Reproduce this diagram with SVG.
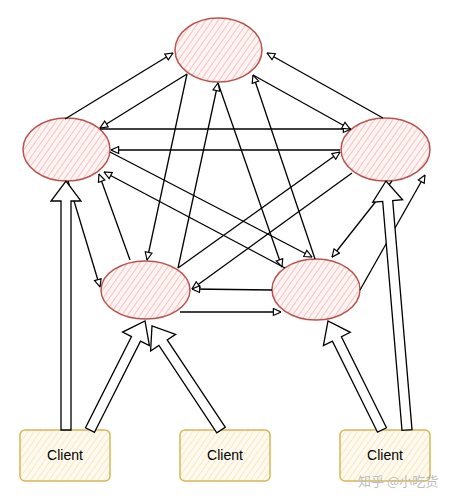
<svg xmlns="http://www.w3.org/2000/svg" width="453" height="501" viewBox="0 0 453 501">
<defs>
<pattern id="hatchRed" patternUnits="userSpaceOnUse" width="5" height="5" patternTransform="rotate(35)">
<rect width="5" height="5" fill="#fdf3f2"/>
<line x1="0" y1="0" x2="0" y2="5" stroke="#f0b8b6" stroke-width="1.6"/>
</pattern>
<pattern id="hatchYel" patternUnits="userSpaceOnUse" width="5" height="5" patternTransform="rotate(35)">
<rect width="5" height="5" fill="#fffaf0"/>
<line x1="0" y1="0" x2="0" y2="5" stroke="#f6e3b8" stroke-width="1.6"/>
</pattern>
<marker id="ah" viewBox="0 0 10 10" refX="9.5" refY="5" markerWidth="9" markerHeight="9" markerUnits="userSpaceOnUse" orient="auto">
<path d="M1,1.2 L9.5,5 L1,8.8 Z" fill="#fff" stroke="#000" stroke-width="1.3" stroke-linejoin="miter"/>
</marker>
</defs>
<style>
.node ellipse{fill:url(#hatchRed);stroke:#b85450;stroke-width:1.5}
.client rect{fill:url(#hatchYel);stroke:#d6b656;stroke-width:1.5}
.client text{font-family:"Liberation Sans",Arial,sans-serif;font-size:14px;fill:#000;text-anchor:middle}
.edge{fill:none;stroke:#000;stroke-width:1.3;marker-end:url(#ah)}
.flex{fill:#fff;stroke:#000;stroke-width:1.3;stroke-linejoin:miter}
.wm{font-family:"Noto Sans CJK SC","Liberation Sans",sans-serif;font-size:13px;fill:#bdbdbd}
</style>
<rect width="453" height="501" fill="#fff"/>

<g id="node-top" class="node"><ellipse cx="218.5" cy="50" rx="43.5" ry="32"/></g>
<g id="node-left" class="node"><ellipse cx="66.5" cy="149.5" rx="43.5" ry="31.5"/></g>
<g id="node-right" class="node"><ellipse cx="385.5" cy="149.5" rx="44.5" ry="31.5"/></g>
<g id="node-bottom-left" class="node"><ellipse cx="145.5" cy="290" rx="44.5" ry="29"/></g>
<g id="node-bottom-right" class="node"><ellipse cx="316" cy="289.5" rx="44" ry="30.5"/></g>

<g id="client-1" class="client"><rect x="20" y="430" width="90" height="51" rx="5"/><text x="65" y="460">Client</text></g>
<g id="client-2" class="client"><rect x="180" y="430" width="90" height="51" rx="5"/><text x="225" y="460">Client</text></g>
<g id="client-3" class="client"><rect x="340" y="430" width="90" height="51" rx="5"/><text x="385" y="460">Client</text></g>

<g id="connectors">
<path class="edge" d="M65,119 L173,53"/>
<path class="edge" d="M187,74 L100,128"/>
<path class="edge" d="M100,129 L351,129"/>
<path class="edge" d="M340,150 L111,150"/>
<path class="edge" d="M178,268 L340,152"/>
<path class="edge" d="M352,173 L192,289"/>
<path class="edge" d="M383,118 L267,53"/>
<path class="edge" d="M253,75 L350,129"/>
<path class="edge" d="M315,259 L253,75"/>
<path class="edge" d="M218,83 L282,267"/>
<path class="edge" d="M178,268 L218,83"/>
<path class="edge" d="M187,74 L147,260"/>
<path class="edge" d="M110,152 L312,257"/>
<path class="edge" d="M285,268 L104,172"/>
<path class="edge" d="M130,260 L99,174"/>
<path class="edge" d="M68,181 L100,287"/>
<path class="edge" d="M272,290 L192,289"/>
<path class="edge" d="M180,312 L281,312"/>
<path class="edge" d="M392,181 L332,257"/>
<path class="edge" d="M360,290 L425,175"/>

<polygon class="flex" points="61,430 61,201 51,201 66,181 81,201 71,201 71,430"/>
<polygon class="flex" points="94.5,432.3 140.5,341.1 149.4,345.6 145,321 122.6,332.1 131.5,336.6 85.5,427.8"/>
<polygon class="flex" points="225.2,427.2 167.2,339.9 175.6,334.4 152,326 150.6,351 158.9,345.4 216.8,432.8"/>
<polygon class="flex" points="386.5,427.8 341.4,336.7 350.3,332.3 328,321 323.4,345.6 332.4,341.2 377.5,432.2"/>
<polygon class="flex" points="412,429.6 392.7,200.5 402.6,199.7 386,181 372.7,202.2 382.7,201.4 402,430.4"/>
</g>

<text class="wm" x="358" y="486">知乎 @小吃货</text>
</svg>
